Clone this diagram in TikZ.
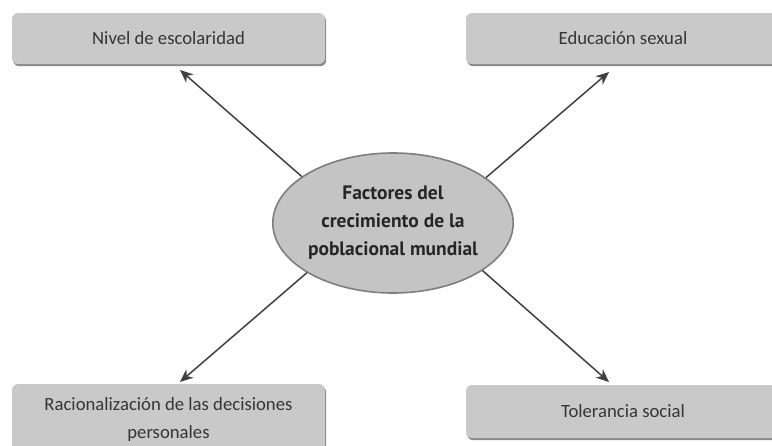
\documentclass[tikz,border=0pt]{standalone}
\usepackage{fontspec}
\setmainfont{Carlito}
\newfontfamily\centerfont{PT Sans}
\usetikzlibrary{shapes.geometric,shadows,arrows.meta}
\definecolor{boxfill}{HTML}{C9C9C9}
\definecolor{boxshadow}{HTML}{8A8A8A}
\definecolor{elfill}{HTML}{C4C4C4}
\definecolor{eldraw}{HTML}{7E7E7E}
\definecolor{arrcol}{HTML}{404040}
\definecolor{txtcol}{HTML}{353535}
\begin{document}
\begin{tikzpicture}[x=1pt,y=-1pt,
  factor/.style={rectangle, rounded corners=6pt, fill=boxfill, text=txtcol,
    inner sep=0pt, font=\fontsize{18.7}{28}\selectfont, align=center,
    drop shadow={shadow xshift=1.2pt, shadow yshift=-2.2pt, fill=boxshadow, opacity=1}},
  center/.style={ellipse, fill=elfill, draw=eldraw, line width=1.6pt, inner sep=0pt,
    minimum width=238pt, minimum height=140pt, align=center,
    font=\centerfont\bfseries\fontsize{19.5}{28}\selectfont, text=black!85},
  arr/.style={draw=arrcol, line width=1.5pt, -{Stealth[length=13pt,width=11pt,inset=4pt]}}
]
\useasboundingbox (0,0) rectangle (772,445);
\clip (0,0) rectangle (772,445);
\node[factor, minimum width=313pt, minimum height=51pt] (tl) at (168.5,38.5) {Nivel de escolaridad};
\node[factor, minimum width=314pt, minimum height=51pt] (tr) at (623,38.5) {Educación sexual};
\node[factor, minimum width=313pt, minimum height=72pt] (bl) at (168.5,420) {Racionalización de las decisiones\\personales};
\node[factor, minimum width=314pt, minimum height=53pt] (br) at (623,411.5) {Tolerancia social};
\node[center] (c) at (393,223) {Factores del\\crecimiento de la\\poblacional mundial};
\coordinate (tltip) at (180,70);
\coordinate (trtip) at (609,72);
\coordinate (bltip) at (180,382);
\coordinate (brtip) at (609,382);
\draw[arr] (c.153) -- (tltip);
\draw[arr] (c.26) -- (trtip);
\draw[arr] (c.210) -- (bltip);
\draw[arr] (c.332) -- (brtip);
\end{tikzpicture}
\end{document}
